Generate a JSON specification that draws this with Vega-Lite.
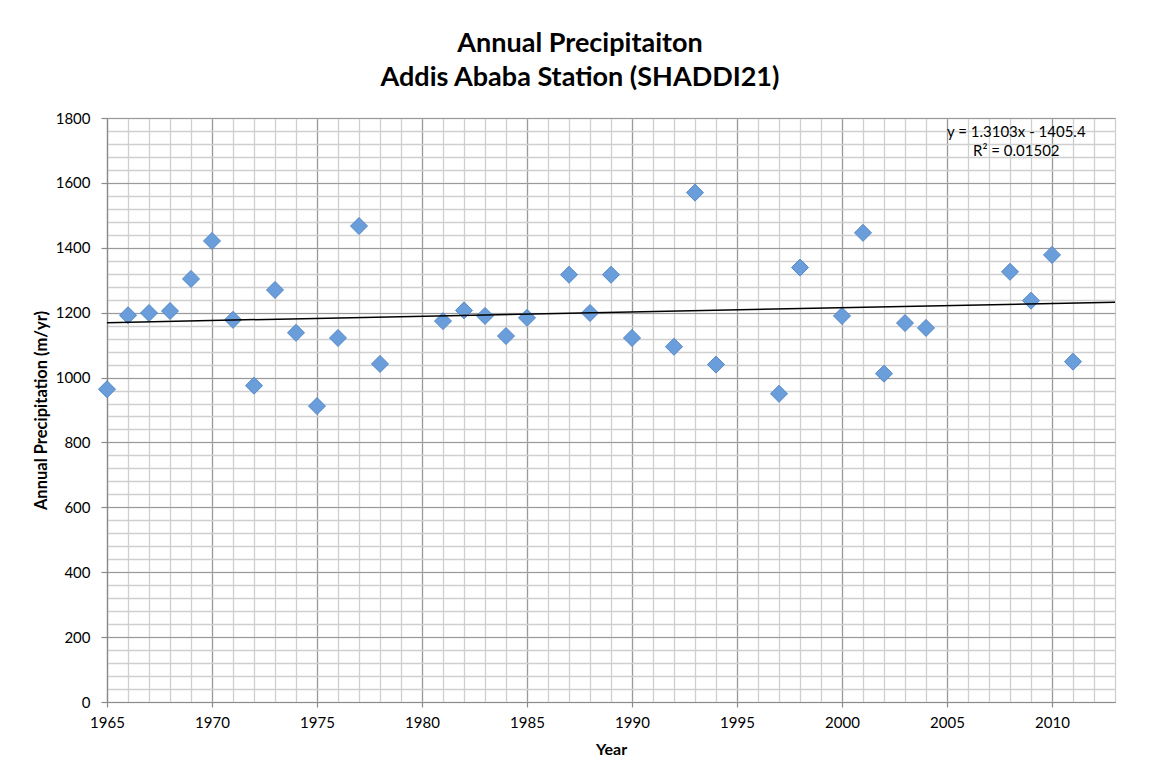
{
  "$schema": "https://vega.github.io/schema/vega-lite/v6.json",
  "width": 1008,
  "height": 584,
  "autosize": {"type": "none"},
  "padding": {"left": 107, "top": 118, "right": 36, "bottom": 80},
  "background": "white",
  "config": {
    "view": {"stroke": "#b4b4b4", "strokeWidth": 1},
    "font": "Lato"
  },
  "title": {
    "text": ["Annual Precipitaiton", "Addis Ababa Station (SHADDI21)"],
    "font": "Lato",
    "fontSize": 27,
    "fontWeight": "bold",
    "color": "#000000",
    "anchor": "middle",
    "lineHeight": 34,
    "offset": 19,
    "dx": -31
  },
  "datasets": {
    "precip": [
      {"year": 1965, "value": 964},
      {"year": 1966, "value": 1192},
      {"year": 1967, "value": 1199},
      {"year": 1968, "value": 1205},
      {"year": 1969, "value": 1304},
      {"year": 1970, "value": 1421},
      {"year": 1971, "value": 1178},
      {"year": 1972, "value": 975},
      {"year": 1973, "value": 1270},
      {"year": 1974, "value": 1138},
      {"year": 1975, "value": 912},
      {"year": 1976, "value": 1122},
      {"year": 1977, "value": 1467},
      {"year": 1978, "value": 1042},
      {"year": 1981, "value": 1174},
      {"year": 1982, "value": 1207},
      {"year": 1983, "value": 1190},
      {"year": 1984, "value": 1128},
      {"year": 1985, "value": 1184},
      {"year": 1987, "value": 1317},
      {"year": 1988, "value": 1199},
      {"year": 1989, "value": 1317},
      {"year": 1990, "value": 1122},
      {"year": 1992, "value": 1095},
      {"year": 1993, "value": 1570},
      {"year": 1994, "value": 1040},
      {"year": 1997, "value": 950},
      {"year": 1998, "value": 1339},
      {"year": 2000, "value": 1190},
      {"year": 2001, "value": 1446},
      {"year": 2002, "value": 1012},
      {"year": 2003, "value": 1168},
      {"year": 2004, "value": 1153},
      {"year": 2008, "value": 1326},
      {"year": 2009, "value": 1237},
      {"year": 2010, "value": 1378},
      {"year": 2011, "value": 1049}
    ],
    "trend": [
      {"year": 1965, "value": 1169.3},
      {"year": 2013, "value": 1232.2}
    ],
    "eq": [
      {"year": 2008.3, "value": 1758, "label": "y = 1.3103x - 1405.4"},
      {"year": 2008.3, "value": 1698, "label": "R² = 0.01502"}
    ]
  },
  "resolve": {"axis": {"x": "independent", "y": "independent"}},
  "layer": [
    {
      "data": {"name": "precip"},
      "mark": {"type": "point", "shape": "diamond", "filled": true, "size": 290, "fill": "#6A9EDB", "stroke": "#5487C8", "strokeWidth": 1, "opacity": 1},
      "encoding": {
        "x": {
          "field": "year", "type": "quantitative",
          "scale": {"domain": [1965, 2013], "nice": false, "zero": false},
          "axis": {
            "orient": "bottom",
            "values": [1965,1966,1967,1968,1969,1970,1971,1972,1973,1974,1975,1976,1977,1978,1979,1980,1981,1982,1983,1984,1985,1986,1987,1988,1989,1990,1991,1992,1993,1994,1995,1996,1997,1998,1999,2000,2001,2002,2003,2004,2005,2006,2007,2008,2009,2010,2011,2012,2013],
            "grid": true, "gridColor": "#cfcfcf", "gridWidth": 1.3, "gridOpacity": 1,
            "labels": false, "ticks": false, "domain": false, "title": null
          }
        },
        "y": {
          "field": "value", "type": "quantitative",
          "scale": {"domain": [0, 1800], "nice": false, "zero": true},
          "axis": {
            "orient": "left",
            "values": [0,40,80,120,160,200,240,280,320,360,400,440,480,520,560,600,640,680,720,760,800,840,880,920,960,1000,1040,1080,1120,1160,1200,1240,1280,1320,1360,1400,1440,1480,1520,1560,1600,1640,1680,1720,1760,1800],
            "grid": true, "gridColor": "#cfcfcf", "gridWidth": 1.3, "gridOpacity": 1,
            "labels": false, "ticks": false, "domain": false, "title": null
          }
        }
      }
    },
    {
      "data": {"name": "trend"},
      "mark": {"type": "line", "color": "#000000", "strokeWidth": 1.5},
      "encoding": {
        "x": {
          "field": "year", "type": "quantitative",
          "axis": {
            "orient": "bottom",
            "values": [1965,1970,1975,1980,1985,1990,1995,2000,2005,2010],
            "format": "d",
            "grid": true, "gridColor": "#9a9a9a", "gridWidth": 1.2, "gridOpacity": 1,
            "domain": true, "domainColor": "#8a8a8a", "domainWidth": 1.2,
            "ticks": true, "tickSize": 5, "tickColor": "#8a8a8a", "tickWidth": 1.2,
            "labelFont": "Lato", "labelFontSize": 15, "labelColor": "#000000", "labelPadding": 8,
            "labelFlush": false,
            "title": "Year", "titleFont": "Lato", "titleFontSize": 16, "titleFontWeight": "bold", "titleColor": "#000000", "titlePadding": 11
          }
        },
        "y": {
          "field": "value", "type": "quantitative",
          "axis": {
            "orient": "left",
            "values": [0,200,400,600,800,1000,1200,1400,1600,1800],
            "format": "d",
            "grid": true, "gridColor": "#9a9a9a", "gridWidth": 1.2, "gridOpacity": 1,
            "domain": true, "domainColor": "#8a8a8a", "domainWidth": 1.2,
            "ticks": true, "tickSize": 6, "tickColor": "#8a8a8a", "tickWidth": 1.2,
            "labelFont": "Lato", "labelFontSize": 15, "labelColor": "#000000", "labelPadding": 11,
            "labelFlush": false,
            "title": "Annual Precipitation (m/yr)", "titleFont": "Lato", "titleFontSize": 16.5, "titleFontWeight": "bold", "titleColor": "#000000", "titlePadding": 6
          }
        }
      }
    },
    {
      "data": {"name": "eq"},
      "mark": {"type": "text", "font": "Lato", "fontSize": 15, "color": "#000000", "align": "center", "baseline": "middle"},
      "encoding": {
        "x": {"field": "year", "type": "quantitative", "axis": null},
        "y": {"field": "value", "type": "quantitative", "axis": null},
        "text": {"field": "label", "type": "nominal"}
      }
    }
  ]
}
